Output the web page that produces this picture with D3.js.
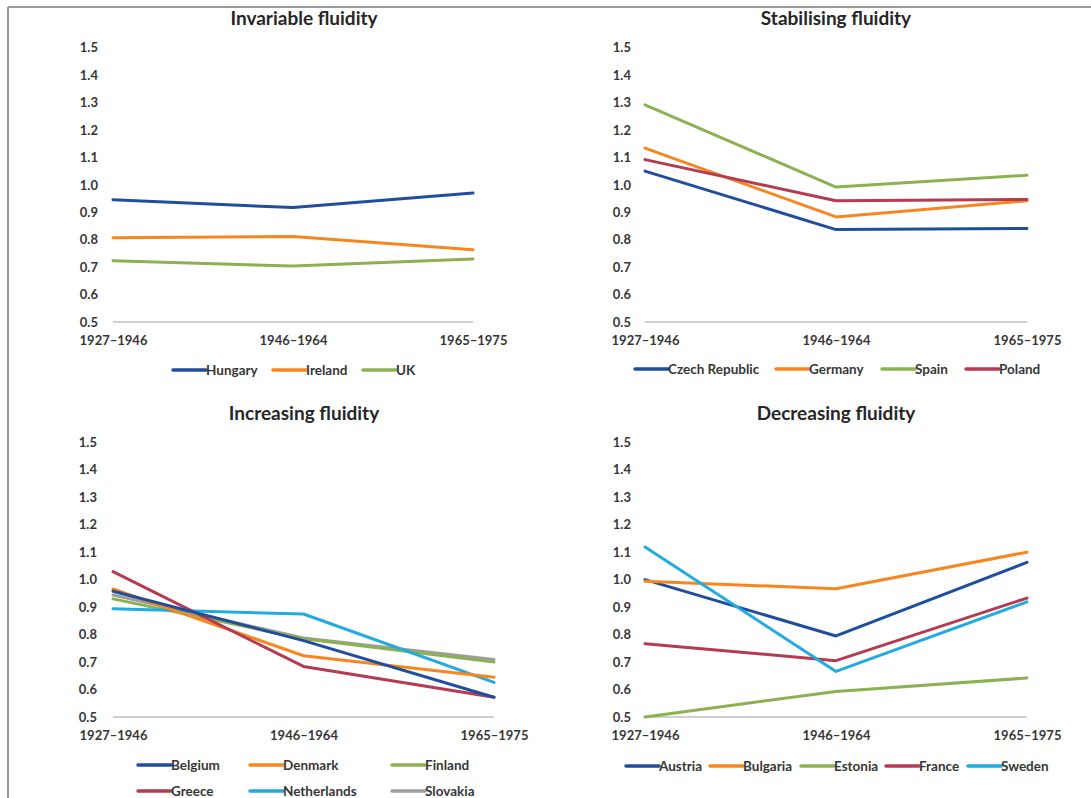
<!DOCTYPE html>
<html>
<head>
<meta charset="utf-8">
<script src="https://cdn.jsdelivr.net/npm/d3@7"></script>
<style>
  html, body { margin: 0; padding: 0; background: #fff; }
  svg { display: block; font-family: Lato, "Open Sans", sans-serif; }
</style>
</head>
<body>
<svg id="chart" width="1091" height="798"></svg>
<script>
// ---------- DATA ----------
const periods = ["1927\u20131946", "1946\u20131964", "1965\u20131975"];
const yTicks = [0.5, 0.6, 0.7, 0.8, 0.9, 1.0, 1.1, 1.2, 1.3, 1.4, 1.5];

const titles = ["Invariable fluidity", "Stabilising fluidity", "Increasing fluidity", "Decreasing fluidity"];

// Invariable fluidity
const hungary = [0.946, 0.917, 0.970];
const ireland = [0.807, 0.812, 0.763];
const uk      = [0.723, 0.704, 0.730];

// Stabilising fluidity
const czechRepublic = [1.050, 0.837, 0.841];
const germany       = [1.134, 0.883, 0.942];
const spain         = [1.292, 0.992, 1.035];
const poland        = [1.092, 0.942, 0.947];

// Increasing fluidity
const belgium     = [0.958, 0.778, 0.572];
const denmark     = [0.966, 0.723, 0.645];
const finland     = [0.930, 0.785, 0.700];
const greece      = [1.029, 0.684, 0.572];
const netherlands = [0.894, 0.875, 0.626];
const slovakia    = [0.944, 0.788, 0.709];

// Decreasing fluidity
const austria  = [1.000, 0.795, 1.063];
const bulgaria = [0.994, 0.967, 1.100];
const estonia  = [0.500, 0.593, 0.642];
const france   = [0.767, 0.705, 0.933];
const sweden   = [1.119, 0.666, 0.919];

// ---------- COLOURS ----------
const C = {
  blue: "#1f4e9d", orange: "#f7861f", green: "#8cb153",
  red: "#b53a52", cyan: "#21abe0", gray: "#9e9e9e"
};

// ---------- PANELS (layout) ----------
const panels = [
  { title: titles[0], x0: 113, x1: 473, yTop: 47.7, yBot: 322, labelX: 98, titleX: 304, titleY: 25,
    series: [
      { name: "Hungary", values: hungary, color: C.blue, lx: 173, ly: 370 },
      { name: "Ireland", values: ireland, color: C.orange, lx: 273, ly: 370 },
      { name: "UK", values: uk, color: C.green, lx: 363, ly: 370 }
    ] },
  { title: titles[1], x0: 645, x1: 1027, yTop: 47.7, yBot: 322, labelX: 631, titleX: 836, titleY: 25,
    series: [
      { name: "Czech Republic", values: czechRepublic, color: C.blue, lx: 635, ly: 369 },
      { name: "Germany", values: germany, color: C.orange, lx: 776, ly: 369 },
      { name: "Spain", values: spain, color: C.green, lx: 882, ly: 369 },
      { name: "Poland", values: poland, color: C.red, lx: 966, ly: 369 }
    ] },
  { title: titles[2], x0: 113, x1: 494, yTop: 442.3, yBot: 717, labelX: 97, titleX: 304, titleY: 420,
    series: [
      { name: "Slovakia", values: slovakia, color: C.gray, lx: 392, ly: 791 },
      { name: "Finland", values: finland, color: C.green, lx: 392, ly: 765 },
      { name: "Netherlands", values: netherlands, color: C.cyan, lx: 250, ly: 791 },
      { name: "Denmark", values: denmark, color: C.orange, lx: 250, ly: 765 },
      { name: "Greece", values: greece, color: C.red, lx: 138, ly: 791 },
      { name: "Belgium", values: belgium, color: C.blue, lx: 138, ly: 765 }
    ] },
  { title: titles[3], x0: 645, x1: 1027, yTop: 442.3, yBot: 717, labelX: 631, titleX: 836, titleY: 420,
    series: [
      { name: "Austria", values: austria, color: C.blue, lx: 626, ly: 766 },
      { name: "Bulgaria", values: bulgaria, color: C.orange, lx: 710, ly: 766 },
      { name: "Estonia", values: estonia, color: C.green, lx: 801, ly: 766 },
      { name: "France", values: france, color: C.red, lx: 886, ly: 766 },
      { name: "Sweden", values: sweden, color: C.cyan, lx: 968, ly: 766 }
    ] }
];

const svg = d3.select("#chart");

// outer frame (top and left edges)
svg.append("line").attr("x1", 8).attr("x2", 1091).attr("y1", 7).attr("y2", 7)
  .attr("stroke", "#999").attr("stroke-width", 2);
svg.append("line").attr("x1", 8).attr("x2", 8).attr("y1", 7).attr("y2", 798)
  .attr("stroke", "#999").attr("stroke-width", 2);

const textColor = "#363636";

panels.forEach(p => {
  const g = svg.append("g");
  const x = d3.scalePoint().domain(periods).range([p.x0, p.x1]);
  const y = d3.scaleLinear().domain([0.5, 1.5]).range([p.yBot, p.yTop]);

  // title
  g.append("text").attr("x", p.titleX).attr("y", p.titleY)
    .attr("text-anchor", "middle").attr("font-size", 19).attr("font-weight", 700)
    .attr("fill", "#262626").text(p.title);

  // y axis (labels only)
  const yAxis = d3.axisLeft(y).tickValues(yTicks).tickFormat(d3.format(".1f")).tickSize(0).tickPadding(0);
  const ya = g.append("g").attr("transform", `translate(${p.labelX},0)`).call(yAxis);
  ya.select(".domain").remove();
  ya.selectAll("text").attr("font-size", 13).attr("font-weight", 700)
    .attr("fill", textColor).attr("font-family", "Lato, sans-serif");

  // baseline
  g.append("line").attr("x1", p.x0).attr("x2", p.x1)
    .attr("y1", y(0.5)).attr("y2", y(0.5))
    .attr("stroke", "#d0d0d0").attr("stroke-width", 2);

  // x axis (labels only)
  const xAxis = d3.axisBottom(x).tickSize(0).tickPadding(0);
  const xa = g.append("g").attr("transform", `translate(0,${y(0.5) + 14})`).call(xAxis);
  xa.select(".domain").remove();
  xa.selectAll("text").attr("font-size", 13).attr("font-weight", 700)
    .attr("fill", textColor).attr("font-family", "Lato, sans-serif");

  // lines
  const line = d3.line().x((d, i) => x(periods[i])).y(d => y(d));
  p.series.forEach(s => {
    g.append("path").datum(s.values).attr("d", line)
      .attr("fill", "none").attr("stroke", s.color).attr("stroke-width", 3)
      .attr("stroke-linejoin", "round").attr("stroke-linecap", "round");
  });

  // legend
  p.series.forEach(s => {
    const lg = g.append("g").attr("transform", `translate(${s.lx},${s.ly})`);
    lg.append("line").attr("x1", 0).attr("x2", 33).attr("y1", 0).attr("y2", 0)
      .attr("stroke", s.color).attr("stroke-width", 3.5).attr("stroke-linecap", "round");
    lg.append("text").attr("x", 33).attr("y", 0).attr("dy", "0.35em")
      .attr("font-size", 13.5).attr("font-weight", 700).attr("fill", textColor)
      .text(s.name);
  });
});
</script>
</body>
</html>
